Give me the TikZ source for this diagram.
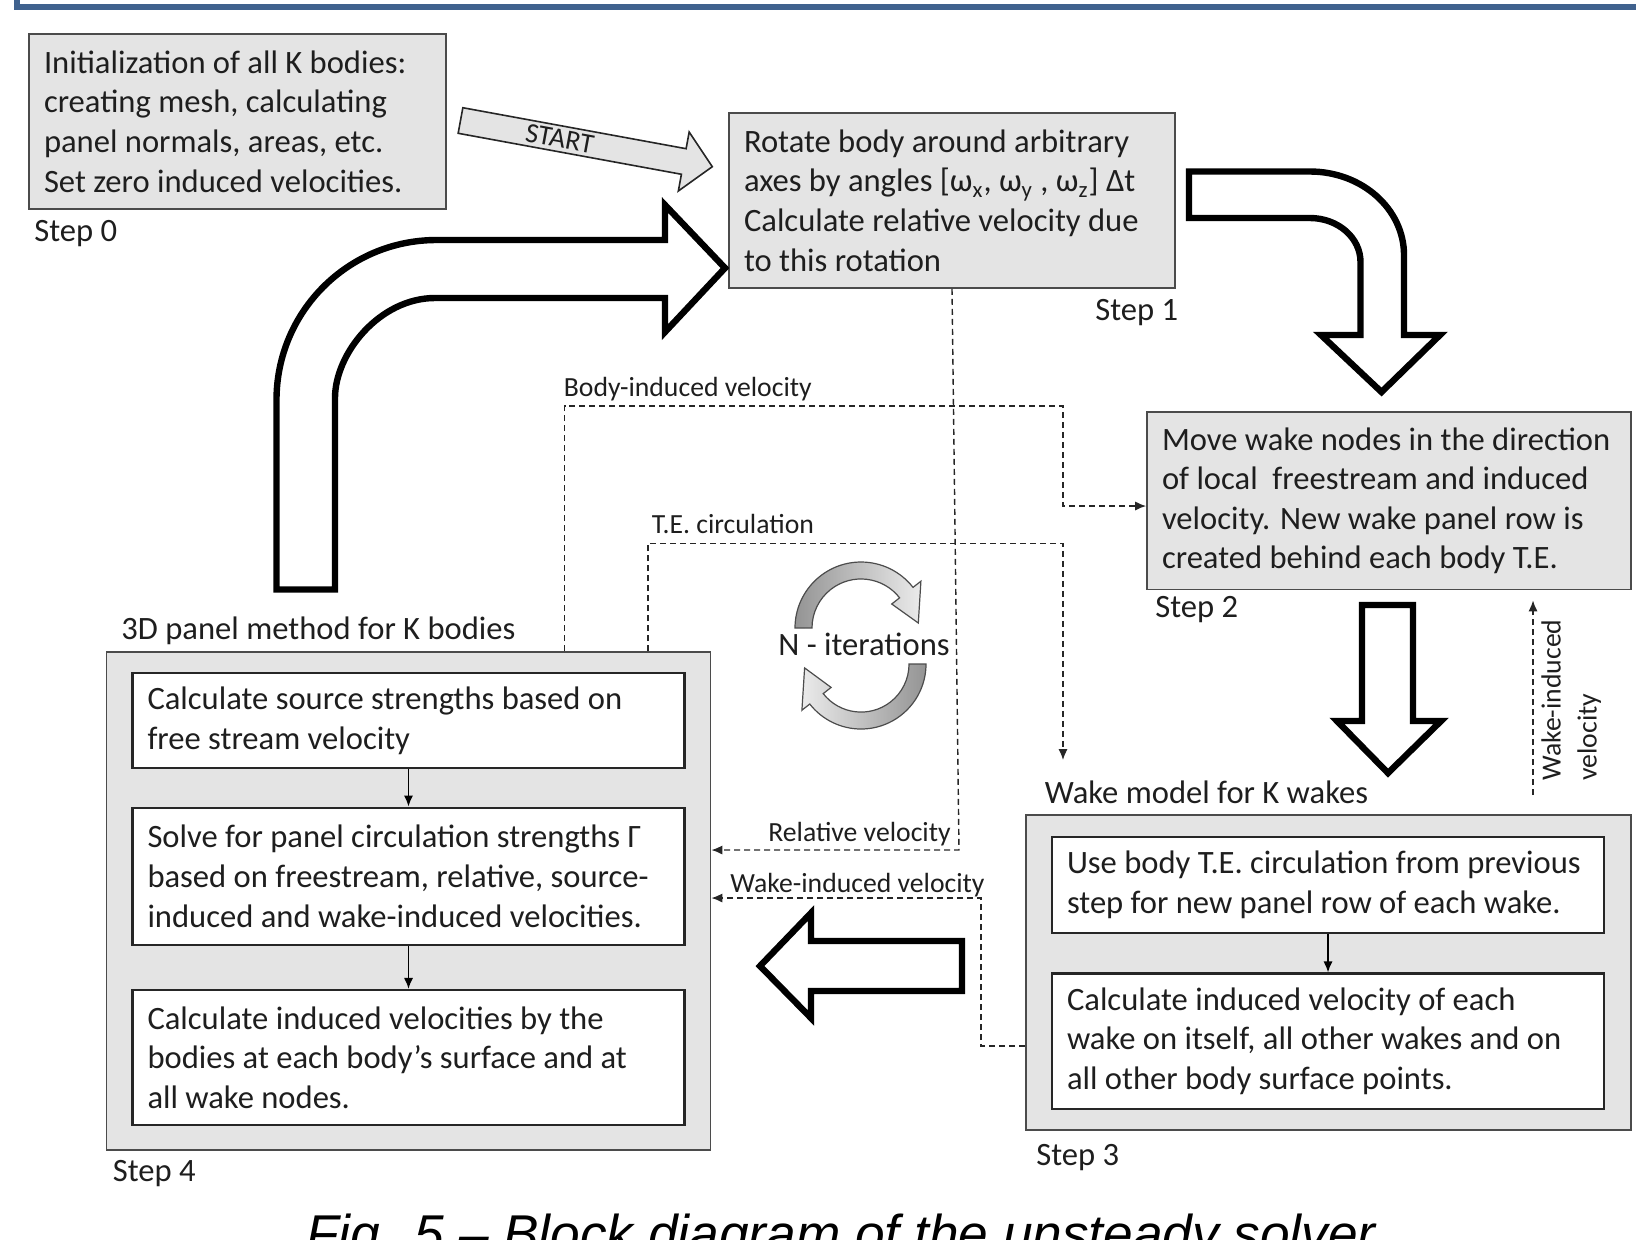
\documentclass[tikz,border=0pt]{standalone}
\usepackage{fontspec}
\setmainfont{Carlito}
\newfontfamily\capfont{Liberation Sans}
\usetikzlibrary{arrows.meta}
\definecolor{boxgray}{RGB}{228,228,228}
\definecolor{edgegray}{RGB}{75,75,75}
\definecolor{inkgray}{RGB}{30,30,30}
\definecolor{frameblue}{RGB}{64,98,142}

\begin{document}
\begin{tikzpicture}[x=0.5pt,y=-0.5pt,>={Latex[length=5.5pt,width=4.6pt]},
  step node/.style={draw=edgegray,fill=boxgray,line width=0.9pt,inner xsep=7.5pt,inner ysep=0pt,
    align=left,text=inkgray,font=\fontsize{16.3}{19.8}\selectfont,
    execute at begin node={\spaceskip=0pt\xspaceskip=0pt\hyphenpenalty=10000\exhyphenpenalty=10000}},
  inner node/.style={step node,draw=black!85,fill=white,line width=1.1pt,text width=261pt},
  group node/.style={draw=edgegray,fill=boxgray,line width=0.9pt,inner sep=0pt},
  step label/.style={anchor=base west,inner sep=0pt,text=inkgray,font=\fontsize{16.3}{19.8}\selectfont},
  flow label/.style={anchor=base west,inner sep=0pt,text=inkgray,font=\fontsize{13.85}{18}\selectfont},
  dashed link/.style={draw=black!85,line width=0.7pt,dash pattern=on 3pt off 2pt,->},
  solid link/.style={draw=black,line width=0.8pt,->},
  big arrow/.style={draw=black,fill=white,line width=3.2pt,line join=miter},
  loop arrow/.style={draw=black!70,line width=0.6pt}]
  \useasboundingbox (0,0) rectangle (1636,1239);
  \draw[frameblue,line width=2.6pt] (17,-10) -- (17,7) -- (1660,7);

  \node[step node,text width=193.5pt,minimum height=87.5pt] (s0) at (237.5,121.5)
    {Initialization of all K bodies:\\creating mesh, calculating\\panel normals, areas, etc.\\Set zero induced velocities.};
  \node[step node,text width=208pt,minimum height=87.5pt] (s1) at (952,200.5)
    {Rotate body around arbitrary\\axes by angles [ω\textsubscript{x}, ω\textsubscript{y} , ω\textsubscript{z}] Δt\\Calculate relative velocity due\\to this rotation};
  \node[step node,text width=227pt,minimum height=88.75pt] (s2) at (1389,500.75)
    {Move wake nodes in the direction\\of local\ \ freestream and induced\\velocity. New wake panel row is\\created behind each body T.E.};
  \node[group node,minimum width=302.5pt,minimum height=157.5pt] (s3) at (1328.5,972.5) {};
  \node[inner node,minimum height=48pt] (s3a) at (1328,885)
    {Use body T.E. circulation from previous\\step for new panel row of each wake.};
  \node[inner node,minimum height=67.75pt] (s3b) at (1328,1041.25)
    {Calculate induced velocity of each\\wake on itself, all other wakes and on\\all other body surface points.};
  \node[group node,minimum width=302pt,minimum height=249pt] (s4) at (408.5,901) {};
  \node[inner node,minimum height=47.5pt] (s4a) at (408.5,720.5)
    {Calculate source strengths based on\\free stream velocity};
  \node[inner node,minimum height=68.7pt] (s4b) at (408.5,876.3)
    {Solve for panel circulation strengths Γ\\based on freestream, relative, source-\\induced and wake-induced velocities.};
  \node[inner node,minimum height=67.5pt] (s4c) at (408.5,1057.5)
    {Calculate induced velocities by the\\bodies at each body’s surface and at\\all wake nodes.};

  \node[step label] (l0) at (34,241) {Step 0};
  \node[step label] (l1) at (1095,320) {Step 1};
  \node[step label] (l2) at (1155,617.5) {Step 2};
  \node[step label] (l3) at (1036,1165) {Step 3};
  \node[step label] (l4) at (112.5,1181) {Step 4};
  \node[step label] (l3t) at (1044.5,803) {Wake model for K wakes};
  \node[step label] (l4t) at (121,639.5) {3D panel method for K bodies};

  \begin{scope}[shift={(460.5,120.5)},rotate=-10.4]
    \draw[fill=boxgray,draw=black!85,line width=0.8pt] (0,-13) -- (227,-13) -- (227,-30) -- (256,0)
      -- (227,30) -- (227,13) -- (0,13) -- cycle;
    \node[rotate=-10.4,inner sep=0pt,text=inkgray,font=\fontsize{14}{16}\selectfont] (start) at (101,0) {START};
  \end{scope}

  \draw[big arrow] (276.5,589.5) -- (276.5,400) .. controls (276.5,311.6) and (348.1,240) .. (436.5,240)
    -- (665,240) -- (665,205) -- (725,268) -- (665,332) -- (665,298) -- (435,298)
    .. controls (379.8,298) and (335,353.2) .. (335,398) -- (335,589.5) -- cycle;
  \draw[big arrow] (1189,171.5) -- (1310,171.5) .. controls (1361.9,171.5) and (1404,208.9) .. (1404,255)
    -- (1404,335) -- (1440,335) -- (1381.5,392) -- (1321,335) -- (1360.5,335) -- (1360.5,262)
    .. controls (1360.5,237.7) and (1337.9,218) .. (1310,218) -- (1189,218) -- cycle;
  \draw[big arrow] (1362,605) -- (1413,605) -- (1413,721) -- (1441,721) -- (1388,773)
    -- (1337,721) -- (1362,721) -- cycle;
  \draw[big arrow] (962,941) -- (811,941) -- (811,913) -- (760,966) -- (811,1018)
    -- (811,991) -- (962,991) -- cycle;

  \shadedraw[loop arrow,left color=black!42,right color=black!8] (795,628)
    arc[start angle=180,end angle=322,radius=66] -- (920.9,581.2) -- (918.3,623) -- (891.7,604)
    -- (899.6,597.8) arc[start angle=322,end angle=180,radius=49] -- cycle;
  \shadedraw[loop arrow,left color=black!8,right color=black!42] (926,664)
    arc[start angle=0,end angle=142,radius=65] -- (801.9,710.2) -- (804.6,667.9) -- (831.1,687.4)
    -- (823.2,693.6) arc[start angle=142,end angle=0,radius=48] -- cycle;
  \node[step label,anchor=base] (nit) at (864,655) {N - iterations};

  \draw[solid link] (s4a) -- (s4b);
  \draw[solid link] (s4b) -- (s4c);
  \draw[solid link] (s3a) -- (s3b);

  \coordinate (bi1) at (564.5,406);
  \coordinate (bi2) at (1063,406);
  \coordinate (bi3) at (1063,506);
  \coordinate (te1) at (648,543.5);
  \coordinate (te2) at (1063,543.5);
  \coordinate (te3) at (1063,760);
  \coordinate (rv) at (959,850);
  \coordinate (wi1) at (981,1046);
  \coordinate (wi2) at (981,898);
  \coordinate (wv) at (1533,795);
  \draw[dashed link] (s4.north -| bi1) -- (bi1) -- (bi2) -- (bi3) -- (s2.west |- bi3);
  \draw[dashed link] (s4.north -| te1) -- (te1) -- (te2) -- (te3);
  \draw[dashed link] (s1.south) -- (rv) -- (s4.east |- rv);
  \draw[dashed link] (s3.west |- wi1) -- (wi1) -- (wi2) -- (s4.east |- wi2);
  \draw[dashed link,shorten >=5pt] (wv) -- (s2.south -| wv);

  \node[flow label] (lbi) at (563.5,396) {Body-induced velocity};
  \node[flow label] (lte) at (651.5,533) {T.E. circulation};
  \node[flow label,anchor=base east] (lrv) at (951,841) {Relative velocity};
  \node[flow label] (lwi) at (730,892) {Wake-induced velocity};
  \node[flow label,rotate=90,anchor=north west,align=left] (lwv) at (1541,781) {Wake-induced\\velocity};

  \node[anchor=base,inner sep=0pt,font=\capfont\itshape\fontsize{26.6}{30}\selectfont] (cap) at (841,1252)
    {Fig. 5 – Block diagram of the unsteady solver};
\end{tikzpicture}
\end{document}
